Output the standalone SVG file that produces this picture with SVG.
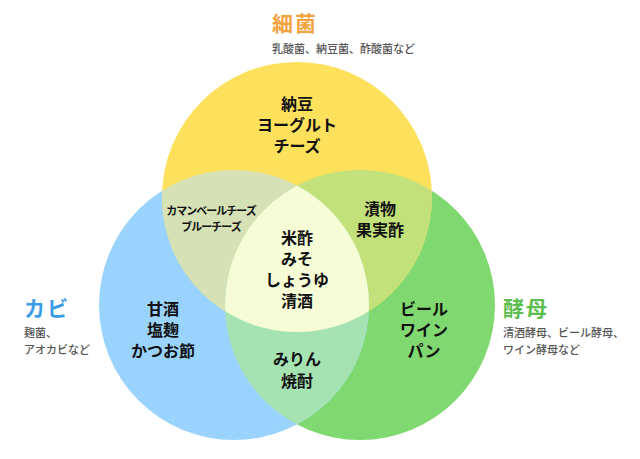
<svg xmlns="http://www.w3.org/2000/svg" width="640" height="459" viewBox="0 0 640 459">
<style>
text{font-family:"Noto Sans CJK JP","Noto Sans",sans-serif;}
.n{font-size:16px;font-weight:700;fill:#111;text-anchor:middle;dominant-baseline:central;}
.s{font-size:11px;font-weight:700;fill:#111;text-anchor:middle;dominant-baseline:central;letter-spacing:-1px;}
.t{font-size:21px;font-weight:700;dominant-baseline:central;letter-spacing:2px;}
.d{font-size:11px;font-weight:500;fill:#555;dominant-baseline:central;}
</style>
<defs>
<clipPath id="cy"><circle cx="297" cy="197" r="135"/></clipPath>
<clipPath id="cb"><circle cx="234" cy="305" r="135"/></clipPath>
<clipPath id="cg"><circle cx="360" cy="305" r="135"/></clipPath>
</defs>
<rect width="640" height="459" fill="#fff"/>
<g id="circles">
<circle id="yeast-circle" cx="360" cy="305" r="135" fill="#80D870"/>
<circle id="mold-circle" cx="234" cy="305" r="135" fill="#9AD3FD"/>
<circle id="bacteria-circle" cx="297" cy="197" r="135" fill="#FDE05C"/>
<g clip-path="url(#cy)"><circle cx="234" cy="305" r="135" fill="#D6E2B5"/></g>
<g clip-path="url(#cy)"><circle cx="360" cy="305" r="135" fill="#C3E17A"/></g>
<g clip-path="url(#cb)"><circle cx="360" cy="305" r="135" fill="#A6E3B2"/></g>
<g clip-path="url(#cy)"><g clip-path="url(#cb)"><circle cx="360" cy="305" r="135" fill="#F6FCD6"/></g></g>
</g>
<g id="connectors"></g>
<g id="label-bacteria">
<text class="t" x="272" y="22" fill="#F2A23E">細菌</text>
<text class="d" x="272" y="48">乳酸菌、納豆菌、酢酸菌など</text>
</g>
<g id="label-mold">
<text class="t" x="24" y="307" fill="#3A9BE6">カビ</text>
<text class="d" x="24" y="332">麹菌、</text>
<text class="d" x="24" y="349">アオカビなど</text>
</g>
<g id="label-yeast">
<text class="t" x="503" y="307" fill="#5DBE50">酵母</text>
<text class="d" x="503" y="332">清酒酵母、ビール酵母、</text>
<text class="d" x="503" y="349">ワイン酵母など</text>
</g>
<g id="node-bacteria">
<text class="n" x="297" y="103">納豆</text>
<text class="n" x="297" y="124">ヨーグルト</text>
<text class="n" x="297" y="145">チーズ</text>
</g>
<g id="node-bacteria-mold">
<text class="s" x="211" y="210">カマンベールチーズ</text>
<text class="s" x="211" y="226">ブルーチーズ</text>
</g>
<g id="node-bacteria-yeast">
<text class="n" x="380" y="208">漬物</text>
<text class="n" x="380" y="229">果実酢</text>
</g>
<g id="node-all">
<text class="n" x="297" y="237">米酢</text>
<text class="n" x="297" y="258">みそ</text>
<text class="n" x="297" y="279">しょうゆ</text>
<text class="n" x="297" y="300">清酒</text>
</g>
<g id="node-mold">
<text class="n" x="163" y="308">甘酒</text>
<text class="n" x="163" y="329">塩麹</text>
<text class="n" x="163" y="350">かつお節</text>
</g>
<g id="node-yeast">
<text class="n" x="424" y="308">ビール</text>
<text class="n" x="424" y="329">ワイン</text>
<text class="n" x="424" y="350">パン</text>
</g>
<g id="node-mold-yeast">
<text class="n" x="297" y="358">みりん</text>
<text class="n" x="297" y="380">焼酎</text>
</g>
</svg>
